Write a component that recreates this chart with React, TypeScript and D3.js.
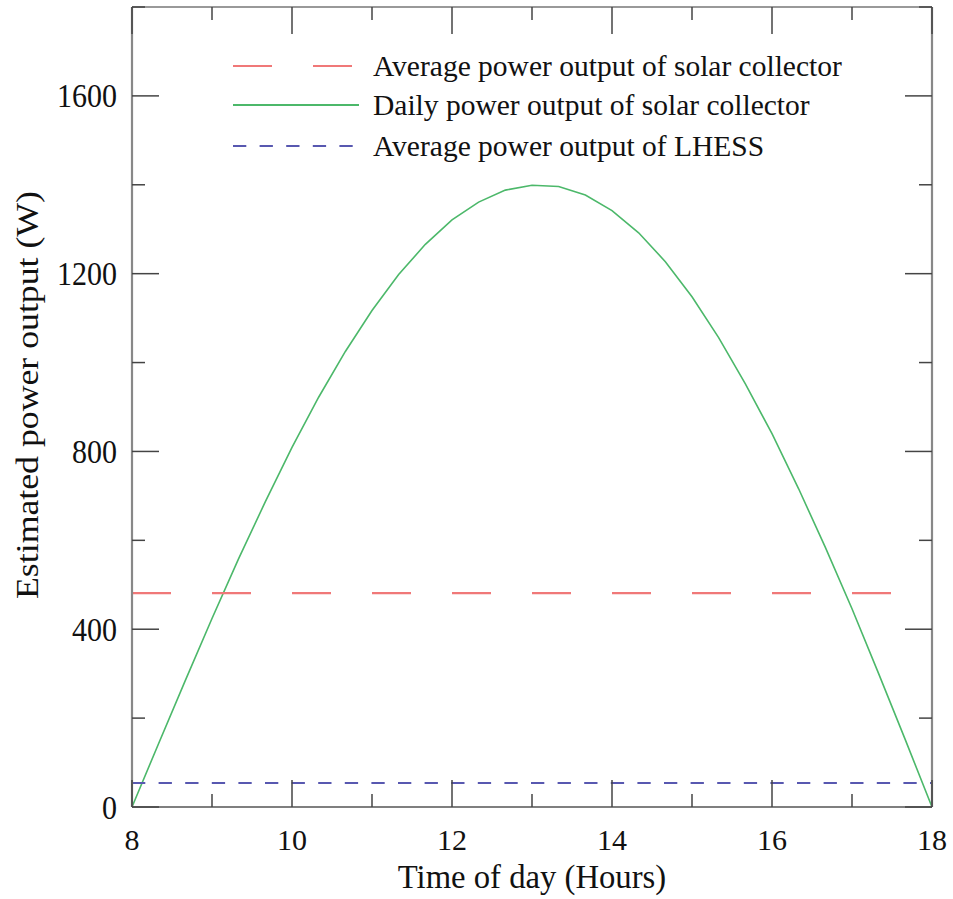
import React from "react";
import * as d3 from "d3";

const hours = [8, 8.333, 8.667, 9, 9.333, 9.667, 10, 10.333, 10.667, 11, 11.333, 11.667, 12, 12.333, 12.667, 13, 13.333, 13.667, 14, 14.333, 14.667, 15, 15.333, 15.667, 16, 16.333, 16.667, 17, 17.333, 17.667, 18];
const dailyPower = [0, 143, 285, 424, 559, 687, 809, 922, 1025, 1117, 1198, 1266, 1321, 1361, 1388, 1399, 1396, 1377, 1342, 1292, 1227, 1148, 1056, 952, 840, 716, 584, 446, 300, 151, 0];
const avgSolar = 481;
const avgLHESS = 54;
const xTicks = [8, 10, 12, 14, 16, 18];
const xMinor = [9, 11, 13, 15, 17];
const yTicks = [0, 400, 800, 1200, 1600];
const yMinor = [200, 600, 1000, 1400, 1800];
const legendLabels = [
  "Average power output of solar collector",
  "Daily power output of solar collector",
  "Average power output of LHESS",
];

const RED = "#f07878";
const GREEN = "#4cb86a";
const BLUE = "#5858b0";

export default function App() {
  const L = 132, T = 7, W = 800, H = 800;
  const x = d3.scaleLinear().domain([8, 18]).range([L, L + W]);
  const y = d3.scaleLinear().domain([0, 1800]).range([T + H, T]);
  const line = d3
    .line<number>()
    .x((_, i) => x(hours[i]))
    .y((d) => y(d));
  const font = "'Liberation Serif', 'Times New Roman', serif";
  const tickCol = "#444";
  const MAJ = 27, MIN = 13;
  const SY = 1.1;

  return (
    <svg
      width={953}
      height={899}
      style={{ position: "absolute", left: 0, top: 0, background: "#fff" }}
      fontFamily={font}
    >
      <rect x={0} y={0} width={953} height={899} fill="#fff" />
      {/* data */}
      <path d={line(dailyPower) || ""} fill="none" stroke={GREEN} strokeWidth={1.6} />
      <line x1={x(8)} x2={x(18)} y1={y(avgSolar)} y2={y(avgSolar)} stroke={RED} strokeWidth={2.2} strokeDasharray="39 41" />
      <line x1={x(8)} x2={x(18)} y1={y(avgLHESS)} y2={y(avgLHESS)} stroke={BLUE} strokeWidth={2} strokeDasharray="13.3 13.3" />

      {/* frame */}
      <line x1={L} x2={L + W} y1={T} y2={T} stroke="#777" strokeWidth={1.3} />
      <line x1={L} x2={L + W} y1={T + H} y2={T + H} stroke="#555" strokeWidth={1.3} />
      <line x1={L} x2={L} y1={T} y2={T + H} stroke="#888" strokeWidth={2.2} />
      <line x1={L + W} x2={L + W} y1={T} y2={T + H} stroke="#888" strokeWidth={2.2} />

      {/* x ticks */}
      {xTicks.map((t) => (
        <g key={"xt" + t}>
          <line x1={x(t)} x2={x(t)} y1={T + H} y2={T + H - MAJ} stroke={tickCol} strokeWidth={1.5} />
          <line x1={x(t)} x2={x(t)} y1={T} y2={T + MAJ} stroke={tickCol} strokeWidth={1.5} />
          <text x={x(t)} y={850} textAnchor="middle" fontSize={30} fill="#111">
            {t}
          </text>
        </g>
      ))}
      {xMinor.map((t) => (
        <g key={"xm" + t}>
          <line x1={x(t)} x2={x(t)} y1={T + H} y2={T + H - MIN} stroke={tickCol} strokeWidth={1.5} />
          <line x1={x(t)} x2={x(t)} y1={T} y2={T + MIN} stroke={tickCol} strokeWidth={1.5} />
        </g>
      ))}
      {/* y ticks */}
      {yTicks.map((t) => (
        <g key={"yt" + t}>
          <line x1={L} x2={L + MAJ} y1={y(t)} y2={y(t)} stroke={tickCol} strokeWidth={1.5} />
          <line x1={L + W} x2={L + W - MAJ} y1={y(t)} y2={y(t)} stroke={tickCol} strokeWidth={1.5} />
          <text transform={`translate(117, ${y(t)}) scale(1, ${SY})`} dy="0.35em" textAnchor="end" fontSize={30} fill="#111">
            {t}
          </text>
        </g>
      ))}
      {yMinor.map((t) => (
        <g key={"ym" + t}>
          <line x1={L} x2={L + MIN} y1={y(t)} y2={y(t)} stroke={tickCol} strokeWidth={1.5} />
          <line x1={L + W} x2={L + W - MIN} y1={y(t)} y2={y(t)} stroke={tickCol} strokeWidth={1.5} />
        </g>
      ))}

      {/* axis titles */}
      <text x={L + W / 2} y={888} textAnchor="middle" fontSize={32.7} fill="#111">
        Time of day (Hours)
      </text>
      <text
        transform={`translate(38, 395) rotate(-90) scale(${SY}, 1)`}
        textAnchor="middle"
        fontSize={32.5}
        fill="#111"
      >
        Estimated power output (W)
      </text>

      {/* legend */}
      {legendLabels.map((lab, i) => {
        const ly = [66, 105, 146][i];
        const col = [RED, GREEN, BLUE][i];
        const dash = ["39 41", "none", "13.3 13.3"][i];
        return (
          <g key={lab}>
            <line x1={233} x2={359} y1={ly} y2={ly} stroke={col} strokeWidth={i === 1 ? 1.8 : 2.2} strokeDasharray={dash} />
            <text x={373} y={ly + 10} fontSize={29.5} fill="#111">
              {lab}
            </text>
          </g>
        );
      })}
    </svg>
  );
}
